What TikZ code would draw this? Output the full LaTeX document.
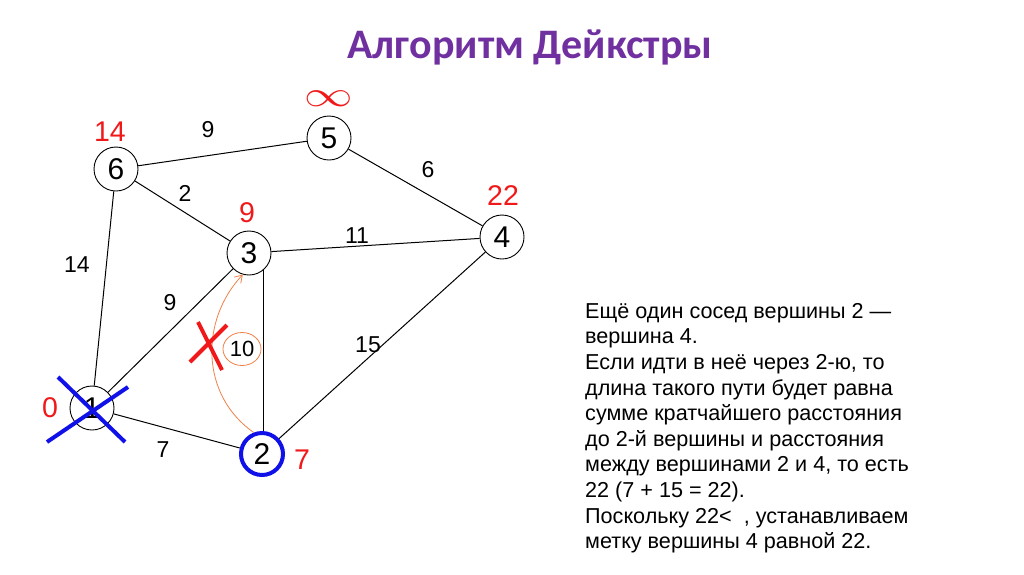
\documentclass[tikz,border=0pt]{standalone}
\usepackage{fontspec}
\setmainfont{Liberation Sans}
\newfontfamily\titlefont{Carlito}
\usetikzlibrary{shapes.geometric,arrows.meta}
\definecolor{titlepurple}{HTML}{7030A0}
\definecolor{lblred}{HTML}{F01818}
\definecolor{markblue}{HTML}{1010E8}
\definecolor{pathorange}{HTML}{F08048}
\tikzset{
  vertex/.style={circle,draw=black,line width=0.9pt,minimum size=44pt,inner sep=0pt,font=\fontsize{30}{30}\selectfont},
  edge/.style={draw=black,line width=1pt},
  wlabel/.style={font=\fontsize{23}{23}\selectfont,inner sep=0pt},
  dlabel/.style={text=lblred,font=\fontsize{28.5}{28.5}\selectfont,inner sep=0pt},
  crossmark/.style={line width=4pt},
}
\begin{document}
\begin{tikzpicture}[x=1pt,y=-1pt]
\useasboundingbox (0,0) rectangle (1024,574);
% title
\node[text=titlepurple,font=\titlefont\bfseries\fontsize{42}{42}\selectfont] (title) at (530,47) {Алгоритм Дейкстры};
% vertices
\node[vertex] (v6) at (116,169) {6};
\node[vertex] (v5) at (329,138) {5};
\node[vertex] (v4) at (502,237) {4};
\node[vertex] (v3) at (249,253) {3};
\node[vertex] (v1) at (92,408) {1};
\node[vertex,draw=markblue,line width=4pt,minimum size=42pt] (v2) at (262,454) {2};
% edges
\draw[edge] (v6) -- (v5);
\draw[edge] (v6) -- (v3);
\draw[edge] (v6) -- (v1);
\draw[edge] (v5) -- (v4);
\draw[edge] (v3) -- (v4);
\draw[edge] (v3) -- (v1);
\draw[edge] (v3.-50) -- (v3.-50 |- v2.north);
\draw[edge] (v4) -- (v2);
\draw[edge] (v1) -- (v2);
% weights
\node[wlabel] (w65) at (208,130) {9};
\node[wlabel] (w63) at (185,193) {2};
\node[wlabel] (w61) at (77,265) {14};
\node[wlabel] (w54) at (428,170) {6};
\node[wlabel] (w34) at (357,236) {11};
\node[wlabel] (w13) at (170,303) {9};
\node[wlabel] (w42) at (368,345) {15};
\node[wlabel] (w12) at (163,450) {7};
% distance labels
\node[dlabel] (d6) at (110,132) {14};
\node[text=lblred,inner sep=0pt] (d5) at (329,99) {\scalebox{1.95}[1.45]{\fontsize{24.88}{24.88}\selectfont$\infty$}};
\node[dlabel] (d3) at (247,213) {9};
\node[dlabel] (d4) at (503,196) {22};
\node[dlabel] (d1) at (50,408) {0};
\node[dlabel] (d2) at (302,460) {7};
% orange path candidate via 2
\draw[pathorange,line width=0.8pt,-{Straight Barb[length=7pt,width=9pt]}] (v2.111) .. controls (200,395) and (200,320) .. (v3.254);
\node[ellipse,draw=pathorange,line width=0.8pt,minimum width=38pt,minimum height=33pt,inner sep=0pt,font=\fontsize{22}{22}\selectfont] (alt) at (242,349) {10};
% red cross
\draw[lblred,crossmark] (190,362) -- (227,325);
\draw[lblred,crossmark] (198,322) -- (222,370);
% blue cross on vertex 1
\draw[markblue,crossmark] (58,377) -- (125,442);
\draw[markblue,crossmark] (47,442) -- (128,387);
% text
\node[anchor=north west,align=left,inner sep=0pt,font=\fontsize{21.6}{25.6}\selectfont] (txt) at (585,303) {Ещё один сосед вершины 2 —\\
вершина 4.\\
Если идти в неё через 2-ю, то\\
длина такого пути будет равна\\
сумме кратчайшего расстояния\\
до 2-й вершины и расстояния\\
между вершинами 2 и 4, то есть\\
22 (7 + 15 = 22).\\
Поскольку 22<\ \ , устанавливаем\\
метку вершины 4 равной 22.};
\end{tikzpicture}
\end{document}
